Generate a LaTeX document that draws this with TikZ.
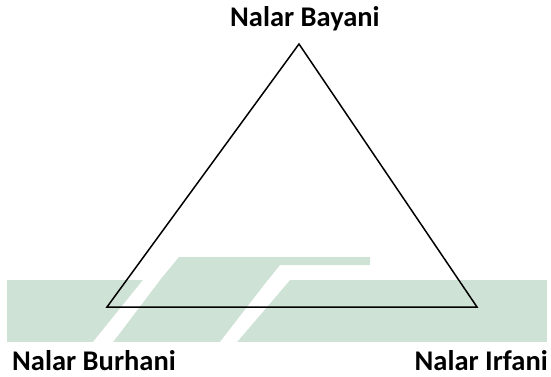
\documentclass[tikz,border=0pt]{standalone}
\usepackage{fontspec}
\setmainfont{Carlito}
\definecolor{wmgreen}{RGB}{206,226,213}
\begin{document}
\begin{tikzpicture}[x=1pt,y=-1pt,
  lbl/.style={font=\fontsize{28.5}{32}\selectfont\bfseries, inner sep=0pt},
  tri/.style={draw=black, line width=1.5pt, line join=miter}]
\useasboundingbox (0,0) rectangle (551,377);
% watermark
\fill[wmgreen] (7,280) rectangle (547,342);
\fill[wmgreen] (179,257) -- (370,257) -- (370,265) -- (280,265) -- (268,280) -- (160,280) -- cycle;
\fill[white] (143,280) -- (160,280) -- (113,342) -- (93,342) -- cycle;
\fill[white] (268,280) -- (290,280) -- (237,342) -- (220,342) -- cycle;
% triangle
\coordinate (A) at (299,44);
\coordinate (B) at (107,307);
\coordinate (C) at (477,307);
\draw[tri] (A) -- (B) -- (C) -- cycle;
% labels
\node[lbl, anchor=base west] (bayani) at (230,27) {Nalar Bayani};
\node[lbl, anchor=base west] (burhani) at (12,370) {Nalar Burhani};
\node[lbl, anchor=base east] (irfani) at (548,370) {Nalar Irfani};
\end{tikzpicture}
\end{document}
